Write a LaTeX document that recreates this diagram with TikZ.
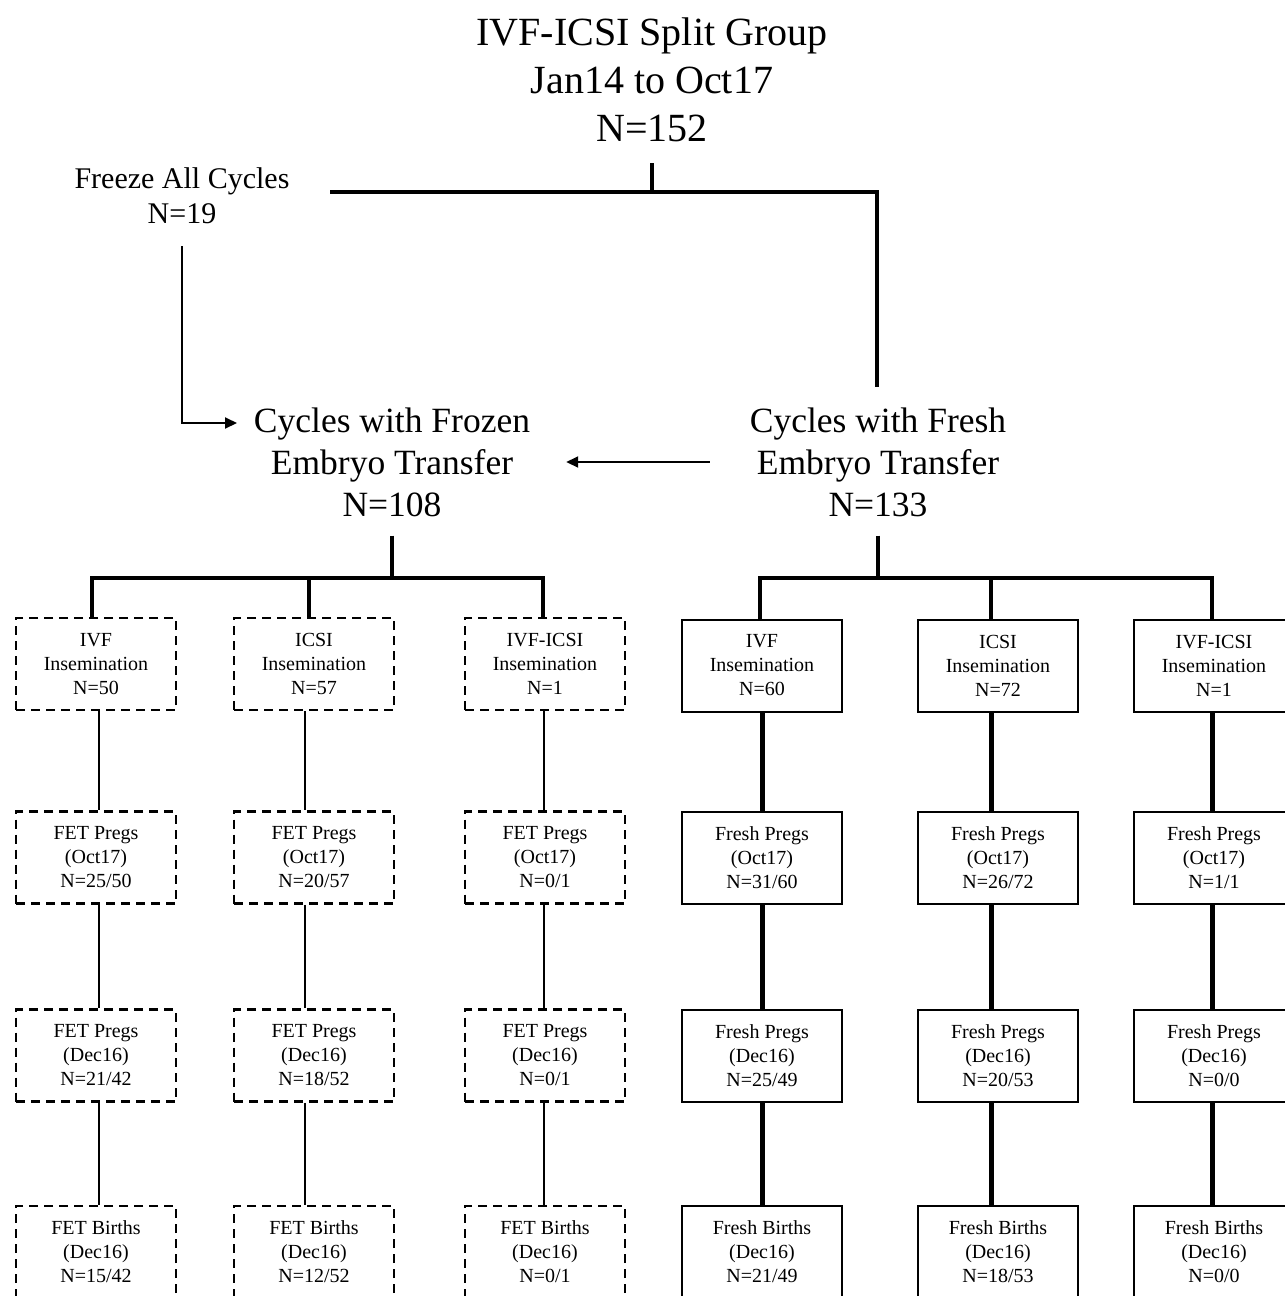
\documentclass[tikz,border=0pt]{standalone}
\usepackage{fontspec}
\setmainfont{Liberation Serif}
\usetikzlibrary{arrows.meta}
\tikzset{
  big/.style={align=center,inner sep=0pt,font=\fontsize{40}{48}\selectfont},
  mid/.style={align=center,inner sep=0pt,font=\fontsize{35.5}{42}\selectfont},
  small/.style={align=center,inner sep=0pt,font=\fontsize{30}{35}\selectfont},
  boxbase/.style={align=center,minimum width=160pt,minimum height=92pt,inner sep=0pt,font=\fontsize{20}{24}\selectfont},
  frozenbox/.style={boxbase,draw,line width=2.5pt,dash pattern=on 9pt off 6pt},
  freshbox/.style={boxbase,draw,line width=2pt},
  heavy/.style={line width=4pt},
  thinline/.style={line width=2pt},
  heavyconn/.style={line width=5pt},
  arr/.style={line width=2pt,-{Triangle[length=12pt,width=11pt]}}
}
\begin{document}
\begin{tikzpicture}[x=1pt,y=-1pt]
\useasboundingbox (0,0) rectangle (1285,1296);
\clip (0,0) rectangle (1285,1296);
\fill[white] (0,0) rectangle (1285,1296);

% top
\node[big] (title) at (652,80) {IVF-ICSI Split Group\\Jan14 to Oct17\\N=152};
\node[small] (freeze) at (182,196) {Freeze All Cycles\\N=19};
\node[mid] (frozen) at (392,462) {Cycles with Frozen\\Embryo Transfer\\N=108};
\node[mid] (fresh) at (878,462) {Cycles with Fresh\\Embryo Transfer\\N=133};

\coordinate (tA) at (652,163);
\coordinate (tB) at (652,192);
\coordinate (tL) at (330,192);
\coordinate (tR) at (877,192);
\coordinate (tEnd) at (877,387);
\draw[heavy] (tA) -- (tB);
\draw[heavy] (tL) -- (tR) -- (tEnd);

\coordinate (fzin) at (237,423);
\draw[arr] ([yshift=-22pt]freeze.south) |- (fzin);
\draw[arr,shorten <=40pt,shorten >=36pt] (fresh.west) -- (frozen.east);

% frozen columns
\node[frozenbox] (a1) at (96,664) {IVF\\Insemination\\N=50};
\node[frozenbox] (b1) at (314,664) {ICSI\\Insemination\\N=57};
\node[frozenbox] (c1) at (545,664) {IVF-ICSI\\Insemination\\N=1};
\node[frozenbox] (a2) at (96,857.5) {FET Pregs\\(Oct17)\\N=25/50};
\node[frozenbox] (b2) at (314,857.5) {FET Pregs\\(Oct17)\\N=20/57};
\node[frozenbox] (c2) at (545,857.5) {FET Pregs\\(Oct17)\\N=0/1};
\node[frozenbox] (a3) at (96,1055.5) {FET Pregs\\(Dec16)\\N=21/42};
\node[frozenbox] (b3) at (314,1055.5) {FET Pregs\\(Dec16)\\N=18/52};
\node[frozenbox] (c3) at (545,1055.5) {FET Pregs\\(Dec16)\\N=0/1};
\node[frozenbox] (a4) at (96,1252) {FET Births\\(Dec16)\\N=15/42};
\node[frozenbox] (b4) at (314,1252) {FET Births\\(Dec16)\\N=12/52};
\node[frozenbox] (c4) at (545,1252) {FET Births\\(Dec16)\\N=0/1};

% fresh columns
\node[freshbox] (d1) at (762,665.5) {IVF\\Insemination\\N=60};
\node[freshbox] (e1) at (998,665.5) {ICSI\\Insemination\\N=72};
\node[freshbox] (f1) at (1214,665.5) {IVF-ICSI\\Insemination\\N=1};
\node[freshbox] (d2) at (762,857.5) {Fresh Pregs\\(Oct17)\\N=31/60};
\node[freshbox] (e2) at (998,857.5) {Fresh Pregs\\(Oct17)\\N=26/72};
\node[freshbox] (f2) at (1214,857.5) {Fresh Pregs\\(Oct17)\\N=1/1};
\node[freshbox] (d3) at (762,1055.5) {Fresh Pregs\\(Dec16)\\N=25/49};
\node[freshbox] (e3) at (998,1055.5) {Fresh Pregs\\(Dec16)\\N=20/53};
\node[freshbox] (f3) at (1214,1055.5) {Fresh Pregs\\(Dec16)\\N=0/0};
\node[freshbox] (d4) at (762,1252) {Fresh Births\\(Dec16)\\N=21/49};
\node[freshbox] (e4) at (998,1252) {Fresh Births\\(Dec16)\\N=18/53};
\node[freshbox] (f4) at (1214,1252) {Fresh Births\\(Dec16)\\N=0/0};

% frozen tree
\coordinate (fzbar) at (392,578);
\draw[heavy] ([yshift=-19pt]frozen.south) -- (fzbar);
\draw[heavy] ([xshift=-4pt]a1.north) |- (fzbar) -| ([xshift=-2pt]c1.north);
\draw[heavy] ([xshift=-5pt]b1.north) -- ([xshift=-5pt]b1.north |- fzbar);

% fresh tree
\coordinate (frbar) at (878,578);
\draw[heavy] ([yshift=-19pt]fresh.south) -- (frbar);
\draw[heavy] ([xshift=-2pt]d1.north) |- (frbar) -| ([xshift=-2pt]f1.north);
\draw[heavy] ([xshift=-7pt]e1.north) -- ([xshift=-7pt]e1.north |- frbar);

% frozen connectors
\foreach \c/\dx in {a/3,b/-9,c/-1}{
  \draw[thinline] ([xshift=\dx pt]\c1.south) -- ([xshift=\dx pt]\c2.north);
  \draw[thinline] ([xshift=\dx pt]\c2.south) -- ([xshift=\dx pt]\c3.north);
  \draw[thinline] ([xshift=\dx pt]\c3.south) -- ([xshift=\dx pt]\c4.north);
}
% fresh connectors
\foreach \c/\dx in {d/0,e/-7,f/-2}{
  \draw[heavyconn] ([xshift=\dx pt]\c1.south) -- ([xshift=\dx pt]\c2.north);
  \draw[heavyconn] ([xshift=\dx pt]\c2.south) -- ([xshift=\dx pt]\c3.north);
  \draw[heavyconn] ([xshift=\dx pt]\c3.south) -- ([xshift=\dx pt]\c4.north);
}
\end{tikzpicture}
\end{document}
